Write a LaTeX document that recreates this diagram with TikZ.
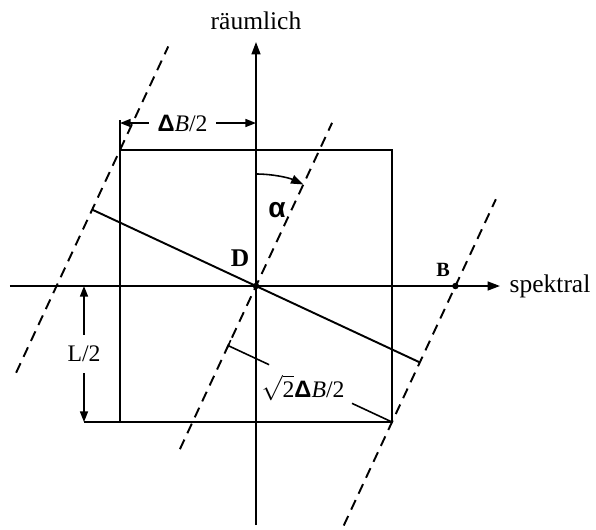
\documentclass[tikz,border=0pt]{standalone}
\usepackage{amsmath}
\usepackage{fontspec}
\setmainfont{Liberation Serif}
\newfontfamily\greeksans{Liberation Sans}
\usetikzlibrary{arrows.meta,calc}

\begin{document}
\begin{tikzpicture}[
    every node/.style={font=\fontsize{14.5}{17}\selectfont},
    dimlabel/.style={font=\fontsize{13.5}{16}\selectfont},
    line/.style={line width=1.1pt},
    dashline/.style={line width=1.1pt, dash pattern=on 6pt off 4pt},
    dim/.style={line width=0.9pt},
    tip/.style={-{Triangle[length=7pt,width=5pt]}},
    tipboth/.style={{Triangle[length=6pt,width=4.5pt]}-{Triangle[length=6pt,width=4.5pt]}}
  ]
  \useasboundingbox (-5.12,-4.86) rectangle (6.8,5.72);
  % axes
  \coordinate (O) at (0,0);
  \coordinate (xl) at (-4.92,0);
  \coordinate (xr) at (4.88,0);
  \coordinate (yb) at (0,-4.78);
  \coordinate (yt) at (0,4.88);
  \draw[line, tip] (xl) -- (xr);
  \draw[line, tip] (yb) -- (yt);
  \node[right] (spek) at (4.95,0) {spektral};
  \node (raum) at (0,5.3) {räumlich};
  % square
  \coordinate (sqtl) at (-2.72,2.72);
  \coordinate (sqbl) at (-2.72,-2.72);
  \coordinate (sqbr) at (2.72,-2.72);
  \draw[line] (sqbl) rectangle (2.72,2.72);
  % dashed lines
  \coordinate (lc) at (155:3.615);
  \coordinate (rc) at (-25:3.615);
  \coordinate (lt) at ($(lc)+(65:3.6)$);
  \coordinate (lb) at ($(lc)+(245:3.6)$);
  \coordinate (mt) at (65:3.6);
  \coordinate (mb) at (245:3.6);
  \coordinate (rt) at ($(rc)+(65:3.6)$);
  \coordinate (rb) at ($(rc)+(245:3.6)$);
  \draw[dashline] (lb) -- (lt);
  \draw[dashline] (mb) -- (mt);
  \draw[dashline] (rb) -- (rt);
  \draw[line] (lc) -- (rc);
  \coordinate (B) at (intersection of rb--rt and xl--xr);
  \fill (O) circle (0.065);
  \fill (B) circle (0.065);
  \node at (-0.32,0.56) {\bfseries D};
  \node[font=\fontsize{11.5}{13}\selectfont] at (3.74,0.32) {\bfseries B};
  % angle
  \draw[dim, tip] (0,2.24) arc[start angle=90, end angle=65, radius=2.24];
  \node[font=\fontsize{16}{18}\selectfont] at (0.42,1.52) {\greeksans\bfseries α};
  % Delta B/2
  \coordinate (dbl) at (-2.72,3.26);
  \coordinate (dbr) at (0,3.26);
  \coordinate (dbe) at (-2.72,3.32);
  \draw[dim] (sqtl) -- (dbe);
  \draw[dim, tipboth] (dbl) -- node[dimlabel, pos=0.46, fill=white, inner xsep=5pt]
    {{\greeksans\bfseries Δ}\textit{B}/2} (dbr);
  % L/2
  \coordinate (lht) at (-3.44,0);
  \coordinate (lhb) at (-3.44,-2.72);
  \draw[dim] (lhb) -- (sqbl);
  \draw[dim, tipboth] (lht) -- node[dimlabel, fill=white, inner ysep=6pt] {L/2} (lhb);
  % sqrt2 Delta B/2
  \coordinate (P) at ($(sqbr)+(155:3.615)$);
  \draw[dim] ($(P)+(245:0.08)$) -- ($(P)+(65:0.12)$);
  \draw[dim] (P) -- ($(P)!0.25!(sqbr)$);
  \draw[dim] ($(P)!0.756!(sqbr)$) -- (sqbr);
  \node[dimlabel] (wurz) at (0.94,-2.04) {$\sqrt{\text{2}}${\greeksans\bfseries Δ}\textit{B}/2};
\end{tikzpicture}
\end{document}
